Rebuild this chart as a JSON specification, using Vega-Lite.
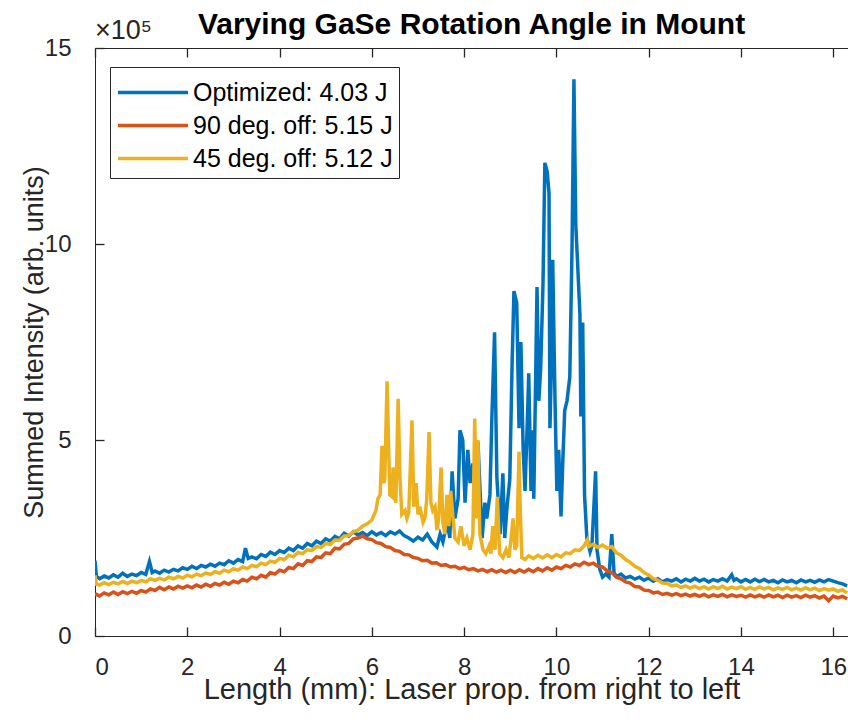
{
  "$schema": "https://vega.github.io/schema/vega-lite/v6.json",
  "width": 753,
  "height": 588,
  "autosize": "none",
  "padding": {"left": 95, "top": 48, "right": 0, "bottom": 85},
  "background": "white",
  "title": {"text": "Varying GaSe Rotation Angle in Mount", "font": "Liberation Sans", "fontSize": 30, "fontWeight": "bold", "color": "#000000", "anchor": "middle", "offset": 10, "dy": 33},
  "config": {
    "view": {"stroke": "#262626", "strokeWidth": 1},
    "axis": {"grid": false, "domain": false, "ticks": true, "domainColor": "#262626", "tickColor": "#262626", "labelColor": "#262626", "titleColor": "#262626", "labelFont": "Liberation Sans", "titleFont": "Liberation Sans", "titleFontWeight": "normal", "zindex": 1, "tickWidth": 1.3}
  },
  "datasets": {
    "blue": [
      {"x":0.0,"y":1.92},{"x":0.03,"y":1.52},{"x":0.1,"y":1.46},{"x":0.2,"y":1.53},{"x":0.3,"y":1.48},{"x":0.4,"y":1.56},{"x":0.5,"y":1.5},{"x":0.6,"y":1.6},{"x":0.7,"y":1.52},{"x":0.8,"y":1.58},{"x":0.9,"y":1.54},{"x":1.0,"y":1.62},{"x":1.1,"y":1.57},{"x":1.18,"y":1.9},{"x":1.24,"y":1.62},{"x":1.3,"y":1.66},{"x":1.4,"y":1.6},{"x":1.5,"y":1.68},{"x":1.6,"y":1.63},{"x":1.7,"y":1.7},{"x":1.8,"y":1.66},{"x":1.9,"y":1.74},{"x":2.0,"y":1.7},{"x":2.1,"y":1.78},{"x":2.2,"y":1.72},{"x":2.3,"y":1.8},{"x":2.4,"y":1.76},{"x":2.5,"y":1.83},{"x":2.6,"y":1.78},{"x":2.7,"y":1.86},{"x":2.8,"y":1.82},{"x":2.9,"y":1.92},{"x":3.0,"y":1.86},{"x":3.1,"y":1.95},{"x":3.2,"y":1.9},{"x":3.26,"y":2.24},{"x":3.32,"y":1.98},{"x":3.4,"y":2.02},{"x":3.5,"y":1.97},{"x":3.6,"y":2.08},{"x":3.7,"y":2.03},{"x":3.8,"y":2.14},{"x":3.9,"y":2.08},{"x":4.0,"y":2.18},{"x":4.1,"y":2.13},{"x":4.2,"y":2.24},{"x":4.3,"y":2.18},{"x":4.4,"y":2.3},{"x":4.5,"y":2.24},{"x":4.6,"y":2.36},{"x":4.7,"y":2.3},{"x":4.8,"y":2.42},{"x":4.9,"y":2.36},{"x":5.0,"y":2.48},{"x":5.1,"y":2.42},{"x":5.2,"y":2.54},{"x":5.3,"y":2.48},{"x":5.4,"y":2.62},{"x":5.5,"y":2.55},{"x":5.6,"y":2.66},{"x":5.7,"y":2.58},{"x":5.8,"y":2.64},{"x":5.9,"y":2.56},{"x":6.0,"y":2.66},{"x":6.1,"y":2.58},{"x":6.2,"y":2.64},{"x":6.3,"y":2.56},{"x":6.4,"y":2.66},{"x":6.5,"y":2.6},{"x":6.6,"y":2.68},{"x":6.7,"y":2.56},{"x":6.8,"y":2.5},{"x":6.9,"y":2.42},{"x":7.0,"y":2.52},{"x":7.1,"y":2.45},{"x":7.2,"y":2.6},{"x":7.3,"y":2.4},{"x":7.41,"y":2.27},{"x":7.48,"y":2.6},{"x":7.54,"y":2.4},{"x":7.63,"y":2.9},{"x":7.69,"y":2.5},{"x":7.74,"y":4.2},{"x":7.8,"y":3.0},{"x":7.87,"y":3.5},{"x":7.91,"y":5.25},{"x":7.97,"y":5.0},{"x":8.02,"y":3.4},{"x":8.08,"y":4.75},{"x":8.13,"y":3.9},{"x":8.19,"y":4.4},{"x":8.26,"y":3.2},{"x":8.3,"y":4.95},{"x":8.39,"y":2.5},{"x":8.45,"y":3.4},{"x":8.49,"y":3.0},{"x":8.56,"y":3.6},{"x":8.6,"y":5.5},{"x":8.66,"y":7.75},{"x":8.71,"y":4.05},{"x":8.78,"y":2.6},{"x":8.84,"y":4.15},{"x":8.88,"y":2.5},{"x":8.93,"y":3.3},{"x":8.99,"y":4.0},{"x":9.04,"y":6.95},{"x":9.08,"y":8.8},{"x":9.14,"y":8.5},{"x":9.19,"y":5.3},{"x":9.23,"y":7.5},{"x":9.28,"y":4.75},{"x":9.32,"y":3.7},{"x":9.38,"y":5.85},{"x":9.4,"y":6.7},{"x":9.45,"y":3.7},{"x":9.49,"y":5.25},{"x":9.51,"y":3.5},{"x":9.58,"y":8.9},{"x":9.62,"y":6.0},{"x":9.66,"y":6.85},{"x":9.71,"y":9.0},{"x":9.75,"y":12.07},{"x":9.8,"y":11.85},{"x":9.84,"y":11.3},{"x":9.86,"y":5.3},{"x":9.9,"y":7.35},{"x":9.92,"y":9.6},{"x":9.97,"y":6.0},{"x":10.01,"y":3.7},{"x":10.05,"y":4.75},{"x":10.1,"y":3.05},{"x":10.14,"y":4.5},{"x":10.18,"y":5.75},{"x":10.23,"y":6.0},{"x":10.29,"y":6.6},{"x":10.34,"y":10.0},{"x":10.38,"y":14.2},{"x":10.42,"y":10.5},{"x":10.46,"y":9.5},{"x":10.51,"y":8.2},{"x":10.53,"y":5.6},{"x":10.57,"y":8.0},{"x":10.61,"y":3.6},{"x":10.66,"y":2.5},{"x":10.73,"y":2.15},{"x":10.77,"y":2.3},{"x":10.85,"y":4.2},{"x":10.88,"y":2.2},{"x":10.94,"y":1.7},{"x":11.0,"y":1.5},{"x":11.07,"y":1.58},{"x":11.14,"y":1.5},{"x":11.2,"y":2.6},{"x":11.25,"y":1.6},{"x":11.31,"y":1.52},{"x":11.4,"y":1.58},{"x":11.5,"y":1.48},{"x":11.6,"y":1.52},{"x":11.7,"y":1.45},{"x":11.8,"y":1.5},{"x":11.9,"y":1.42},{"x":12.0,"y":1.48},{"x":12.1,"y":1.4},{"x":12.2,"y":1.46},{"x":12.3,"y":1.38},{"x":12.4,"y":1.44},{"x":12.5,"y":1.4},{"x":12.6,"y":1.46},{"x":12.7,"y":1.38},{"x":12.8,"y":1.45},{"x":12.9,"y":1.4},{"x":13.0,"y":1.47},{"x":13.1,"y":1.4},{"x":13.2,"y":1.45},{"x":13.3,"y":1.38},{"x":13.4,"y":1.44},{"x":13.5,"y":1.4},{"x":13.6,"y":1.46},{"x":13.7,"y":1.4},{"x":13.8,"y":1.56},{"x":13.85,"y":1.42},{"x":13.9,"y":1.46},{"x":14.0,"y":1.38},{"x":14.1,"y":1.44},{"x":14.2,"y":1.38},{"x":14.3,"y":1.45},{"x":14.4,"y":1.39},{"x":14.5,"y":1.44},{"x":14.6,"y":1.38},{"x":14.7,"y":1.42},{"x":14.8,"y":1.36},{"x":14.9,"y":1.43},{"x":15.0,"y":1.38},{"x":15.1,"y":1.42},{"x":15.2,"y":1.36},{"x":15.3,"y":1.43},{"x":15.4,"y":1.38},{"x":15.5,"y":1.42},{"x":15.6,"y":1.37},{"x":15.7,"y":1.43},{"x":15.8,"y":1.38},{"x":15.9,"y":1.44},{"x":16.0,"y":1.4},{"x":16.1,"y":1.36},{"x":16.2,"y":1.33},{"x":16.3,"y":1.28}
    ],
    "orange": [
      {"x":0.0,"y":1.08},{"x":0.1,"y":1.02},{"x":0.2,"y":1.1},{"x":0.3,"y":1.05},{"x":0.4,"y":1.12},{"x":0.5,"y":1.06},{"x":0.6,"y":1.13},{"x":0.7,"y":1.08},{"x":0.8,"y":1.14},{"x":0.9,"y":1.09},{"x":1.0,"y":1.16},{"x":1.1,"y":1.12},{"x":1.2,"y":1.2},{"x":1.3,"y":1.16},{"x":1.4,"y":1.24},{"x":1.5,"y":1.18},{"x":1.6,"y":1.25},{"x":1.7,"y":1.2},{"x":1.8,"y":1.27},{"x":1.9,"y":1.22},{"x":2.0,"y":1.28},{"x":2.1,"y":1.23},{"x":2.2,"y":1.3},{"x":2.3,"y":1.25},{"x":2.4,"y":1.32},{"x":2.5,"y":1.27},{"x":2.6,"y":1.34},{"x":2.7,"y":1.3},{"x":2.8,"y":1.37},{"x":2.9,"y":1.32},{"x":3.0,"y":1.4},{"x":3.1,"y":1.36},{"x":3.2,"y":1.44},{"x":3.3,"y":1.4},{"x":3.4,"y":1.5},{"x":3.5,"y":1.46},{"x":3.6,"y":1.55},{"x":3.7,"y":1.5},{"x":3.8,"y":1.62},{"x":3.9,"y":1.58},{"x":4.0,"y":1.68},{"x":4.1,"y":1.64},{"x":4.2,"y":1.75},{"x":4.3,"y":1.72},{"x":4.4,"y":1.84},{"x":4.5,"y":1.8},{"x":4.6,"y":1.92},{"x":4.7,"y":1.9},{"x":4.8,"y":2.02},{"x":4.9,"y":2.0},{"x":5.0,"y":2.12},{"x":5.1,"y":2.1},{"x":5.2,"y":2.24},{"x":5.3,"y":2.22},{"x":5.4,"y":2.34},{"x":5.5,"y":2.36},{"x":5.6,"y":2.48},{"x":5.7,"y":2.5},{"x":5.8,"y":2.55},{"x":5.9,"y":2.48},{"x":6.0,"y":2.46},{"x":6.1,"y":2.38},{"x":6.2,"y":2.36},{"x":6.3,"y":2.28},{"x":6.4,"y":2.26},{"x":6.5,"y":2.18},{"x":6.6,"y":2.16},{"x":6.7,"y":2.08},{"x":6.8,"y":2.07},{"x":6.9,"y":2.0},{"x":7.0,"y":1.98},{"x":7.1,"y":1.92},{"x":7.2,"y":1.93},{"x":7.3,"y":1.86},{"x":7.4,"y":1.87},{"x":7.5,"y":1.8},{"x":7.6,"y":1.82},{"x":7.7,"y":1.76},{"x":7.8,"y":1.78},{"x":7.9,"y":1.72},{"x":8.0,"y":1.75},{"x":8.1,"y":1.69},{"x":8.2,"y":1.72},{"x":8.3,"y":1.66},{"x":8.4,"y":1.7},{"x":8.5,"y":1.64},{"x":8.6,"y":1.69},{"x":8.7,"y":1.63},{"x":8.8,"y":1.68},{"x":8.9,"y":1.62},{"x":9.0,"y":1.68},{"x":9.1,"y":1.62},{"x":9.2,"y":1.69},{"x":9.3,"y":1.63},{"x":9.4,"y":1.7},{"x":9.5,"y":1.64},{"x":9.6,"y":1.72},{"x":9.7,"y":1.66},{"x":9.8,"y":1.74},{"x":9.9,"y":1.68},{"x":10.0,"y":1.76},{"x":10.1,"y":1.72},{"x":10.2,"y":1.8},{"x":10.3,"y":1.76},{"x":10.4,"y":1.84},{"x":10.5,"y":1.8},{"x":10.6,"y":1.88},{"x":10.7,"y":1.82},{"x":10.8,"y":1.86},{"x":10.9,"y":1.78},{"x":11.0,"y":1.76},{"x":11.1,"y":1.66},{"x":11.2,"y":1.62},{"x":11.3,"y":1.5},{"x":11.4,"y":1.46},{"x":11.5,"y":1.38},{"x":11.6,"y":1.35},{"x":11.7,"y":1.26},{"x":11.8,"y":1.25},{"x":11.9,"y":1.17},{"x":12.0,"y":1.16},{"x":12.1,"y":1.1},{"x":12.2,"y":1.12},{"x":12.3,"y":1.06},{"x":12.4,"y":1.09},{"x":12.5,"y":1.04},{"x":12.6,"y":1.08},{"x":12.7,"y":1.03},{"x":12.8,"y":1.07},{"x":12.9,"y":1.02},{"x":13.0,"y":1.06},{"x":13.1,"y":1.01},{"x":13.2,"y":1.06},{"x":13.3,"y":1.0},{"x":13.4,"y":1.05},{"x":13.5,"y":1.01},{"x":13.6,"y":1.06},{"x":13.7,"y":1.0},{"x":13.8,"y":1.05},{"x":13.9,"y":1.01},{"x":14.0,"y":1.04},{"x":14.1,"y":0.99},{"x":14.2,"y":1.05},{"x":14.3,"y":1.0},{"x":14.4,"y":1.04},{"x":14.5,"y":0.99},{"x":14.6,"y":1.05},{"x":14.7,"y":1.0},{"x":14.8,"y":1.04},{"x":14.9,"y":0.98},{"x":15.0,"y":1.04},{"x":15.1,"y":0.99},{"x":15.2,"y":1.03},{"x":15.3,"y":0.98},{"x":15.4,"y":1.04},{"x":15.5,"y":0.99},{"x":15.6,"y":1.03},{"x":15.7,"y":0.97},{"x":15.8,"y":1.02},{"x":15.9,"y":0.9},{"x":16.0,"y":1.02},{"x":16.1,"y":0.97},{"x":16.2,"y":1.01},{"x":16.3,"y":0.95}
    ],
    "yellow": [
      {"x":0.0,"y":1.55},{"x":0.03,"y":1.32},{"x":0.1,"y":1.3},{"x":0.2,"y":1.36},{"x":0.3,"y":1.31},{"x":0.4,"y":1.37},{"x":0.5,"y":1.33},{"x":0.6,"y":1.39},{"x":0.7,"y":1.34},{"x":0.8,"y":1.4},{"x":0.9,"y":1.36},{"x":1.0,"y":1.42},{"x":1.1,"y":1.38},{"x":1.2,"y":1.46},{"x":1.3,"y":1.42},{"x":1.4,"y":1.47},{"x":1.5,"y":1.43},{"x":1.6,"y":1.5},{"x":1.7,"y":1.46},{"x":1.8,"y":1.52},{"x":1.9,"y":1.48},{"x":2.0,"y":1.55},{"x":2.1,"y":1.51},{"x":2.2,"y":1.58},{"x":2.3,"y":1.54},{"x":2.4,"y":1.61},{"x":2.5,"y":1.57},{"x":2.6,"y":1.64},{"x":2.7,"y":1.6},{"x":2.8,"y":1.68},{"x":2.9,"y":1.64},{"x":3.0,"y":1.72},{"x":3.1,"y":1.68},{"x":3.2,"y":1.76},{"x":3.3,"y":1.72},{"x":3.4,"y":1.8},{"x":3.5,"y":1.77},{"x":3.6,"y":1.86},{"x":3.7,"y":1.82},{"x":3.8,"y":1.91},{"x":3.9,"y":1.88},{"x":4.0,"y":1.98},{"x":4.1,"y":1.95},{"x":4.2,"y":2.06},{"x":4.3,"y":2.02},{"x":4.4,"y":2.13},{"x":4.5,"y":2.1},{"x":4.6,"y":2.2},{"x":4.7,"y":2.18},{"x":4.8,"y":2.28},{"x":4.9,"y":2.26},{"x":5.0,"y":2.36},{"x":5.1,"y":2.34},{"x":5.2,"y":2.45},{"x":5.3,"y":2.44},{"x":5.4,"y":2.55},{"x":5.5,"y":2.56},{"x":5.6,"y":2.66},{"x":5.7,"y":2.7},{"x":5.8,"y":2.8},{"x":5.9,"y":2.86},{"x":6.0,"y":2.96},{"x":6.09,"y":3.2},{"x":6.13,"y":3.5},{"x":6.18,"y":3.6},{"x":6.22,"y":4.85},{"x":6.26,"y":3.9},{"x":6.28,"y":4.0},{"x":6.33,"y":6.5},{"x":6.37,"y":4.5},{"x":6.39,"y":3.6},{"x":6.44,"y":3.55},{"x":6.46,"y":4.3},{"x":6.5,"y":3.6},{"x":6.52,"y":3.4},{"x":6.57,"y":6.05},{"x":6.61,"y":4.0},{"x":6.65,"y":3.1},{"x":6.72,"y":3.2},{"x":6.76,"y":3.0},{"x":6.8,"y":3.15},{"x":6.87,"y":5.5},{"x":6.91,"y":3.3},{"x":6.96,"y":3.9},{"x":7.0,"y":3.1},{"x":7.04,"y":3.3},{"x":7.11,"y":2.9},{"x":7.15,"y":3.0},{"x":7.19,"y":3.5},{"x":7.24,"y":5.2},{"x":7.28,"y":3.4},{"x":7.32,"y":3.2},{"x":7.37,"y":3.3},{"x":7.41,"y":2.7},{"x":7.45,"y":3.0},{"x":7.5,"y":4.3},{"x":7.54,"y":2.9},{"x":7.58,"y":2.6},{"x":7.63,"y":3.6},{"x":7.67,"y":2.8},{"x":7.71,"y":3.7},{"x":7.76,"y":3.0},{"x":7.8,"y":2.5},{"x":7.87,"y":2.4},{"x":7.93,"y":2.8},{"x":8.0,"y":2.3},{"x":8.06,"y":2.5},{"x":8.13,"y":2.2},{"x":8.19,"y":2.6},{"x":8.23,"y":5.55},{"x":8.27,"y":3.0},{"x":8.3,"y":5.0},{"x":8.34,"y":2.6},{"x":8.41,"y":2.2},{"x":8.47,"y":2.1},{"x":8.54,"y":2.3},{"x":8.58,"y":2.1},{"x":8.62,"y":2.8},{"x":8.67,"y":2.2},{"x":8.72,"y":3.55},{"x":8.77,"y":2.1},{"x":8.84,"y":2.0},{"x":8.91,"y":2.2},{"x":8.97,"y":2.0},{"x":9.01,"y":2.4},{"x":9.06,"y":3.0},{"x":9.1,"y":2.2},{"x":9.14,"y":2.3},{"x":9.19,"y":4.7},{"x":9.21,"y":3.5},{"x":9.25,"y":2.0},{"x":9.32,"y":1.95},{"x":9.4,"y":2.05},{"x":9.5,"y":1.98},{"x":9.6,"y":2.06},{"x":9.7,"y":1.99},{"x":9.8,"y":2.07},{"x":9.9,"y":2.0},{"x":10.0,"y":2.08},{"x":10.1,"y":2.02},{"x":10.2,"y":2.12},{"x":10.3,"y":2.1},{"x":10.4,"y":2.2},{"x":10.5,"y":2.18},{"x":10.6,"y":2.3},{"x":10.67,"y":2.45},{"x":10.7,"y":2.28},{"x":10.8,"y":2.34},{"x":10.9,"y":2.26},{"x":11.0,"y":2.32},{"x":11.1,"y":2.24},{"x":11.2,"y":2.28},{"x":11.3,"y":2.12},{"x":11.4,"y":2.06},{"x":11.5,"y":1.95},{"x":11.6,"y":1.88},{"x":11.7,"y":1.78},{"x":11.8,"y":1.72},{"x":11.9,"y":1.62},{"x":12.0,"y":1.56},{"x":12.1,"y":1.46},{"x":12.2,"y":1.42},{"x":12.3,"y":1.35},{"x":12.4,"y":1.34},{"x":12.5,"y":1.28},{"x":12.6,"y":1.3},{"x":12.7,"y":1.24},{"x":12.8,"y":1.28},{"x":12.9,"y":1.22},{"x":13.0,"y":1.27},{"x":13.1,"y":1.21},{"x":13.2,"y":1.26},{"x":13.3,"y":1.2},{"x":13.4,"y":1.26},{"x":13.5,"y":1.21},{"x":13.6,"y":1.27},{"x":13.7,"y":1.2},{"x":13.8,"y":1.25},{"x":13.9,"y":1.21},{"x":14.0,"y":1.26},{"x":14.1,"y":1.19},{"x":14.2,"y":1.24},{"x":14.3,"y":1.19},{"x":14.4,"y":1.25},{"x":14.5,"y":1.2},{"x":14.6,"y":1.24},{"x":14.7,"y":1.18},{"x":14.8,"y":1.23},{"x":14.9,"y":1.19},{"x":15.0,"y":1.24},{"x":15.1,"y":1.18},{"x":15.2,"y":1.22},{"x":15.3,"y":1.17},{"x":15.4,"y":1.23},{"x":15.5,"y":1.18},{"x":15.6,"y":1.22},{"x":15.7,"y":1.16},{"x":15.8,"y":1.21},{"x":15.9,"y":1.17},{"x":16.0,"y":1.2},{"x":16.1,"y":1.14},{"x":16.2,"y":1.18},{"x":16.3,"y":1.1}
    ]
  },
  "layer": [
    {
      "data": {"name": "blue"},
      "mark": {"type": "line", "strokeWidth": 3.5, "clip": true},
      "encoding": {
        "x": {"field": "x", "type": "quantitative", "scale": {"domain": [0, 16.32], "nice": false, "zero": false},
              "axis": {"orient": "bottom", "values": [0,2,4,6,8,10,12,14,16], "offset": -9, "tickSize": 9, "labelPadding": 19, "labelFontSize": 24, "title": "Length (mm): Laser prop. from right to left", "titleFontSize": 29, "titlePadding": -4}},
        "y": {"field": "y", "type": "quantitative", "scale": {"domain": [0, 15], "nice": false},
              "axis": {"orient": "left", "values": [0,5,10,15], "offset": -9, "tickSize": 9, "labelPadding": 24, "labelFontSize": 24, "title": "Summed Intensity (arb. units)", "titleFontSize": 27, "titlePadding": -4}},
        "color": {"datum": "Optimized: 4.03 J", "type": "nominal",
                  "scale": {"domain": ["Optimized: 4.03 J", "90 deg. off: 5.15 J", "45 deg. off: 5.12 J"], "range": ["#0072BD", "#D95319", "#EDB120"]},
                  "legend": {"title": null, "orient": "none", "legendX": 15, "legendY": 19, "symbolType": "M-1,0H3", "symbolSize": 1225, "symbolStrokeWidth": 3.5, "labelFont": "Liberation Sans", "labelFontSize": 25, "labelColor": "#000000", "strokeColor": "#262626", "fillColor": "white", "padding": 6, "rowPadding": -2, "labelOffset": 38, "labelLimit": 400}}
      }
    },
    {
      "data": {"name": "orange"},
      "mark": {"type": "line", "strokeWidth": 3.5, "clip": true},
      "encoding": {
        "x": {"field": "x", "type": "quantitative", "axis": null},
        "y": {"field": "y", "type": "quantitative"},
        "color": {"datum": "90 deg. off: 5.15 J", "type": "nominal"}
      }
    },
    {
      "data": {"name": "yellow"},
      "mark": {"type": "line", "strokeWidth": 3.5, "clip": true},
      "encoding": {
        "x": {"field": "x", "type": "quantitative", "axis": null},
        "y": {"field": "y", "type": "quantitative"},
        "color": {"datum": "45 deg. off: 5.12 J", "type": "nominal"}
      }
    },
    {
      "data": {"values": [{"x": 0, "y": 15, "t": "×10⁵"}]},
      "mark": {"type": "text", "align": "left", "baseline": "bottom", "dy": -3, "dx": 0, "font": "Liberation Sans", "fontSize": 27, "color": "#262626"},
      "encoding": {
        "x": {"field": "x", "type": "quantitative",
              "axis": {"orient": "top", "values": [0,2,4,6,8,10,12,14,16], "offset": -9, "tickSize": 9, "labels": false, "title": null}},
        "y": {"field": "y", "type": "quantitative"},
        "text": {"field": "t"}
      }
    }
  ],
  "resolve": {"axis": {"x": "independent"}}
}
